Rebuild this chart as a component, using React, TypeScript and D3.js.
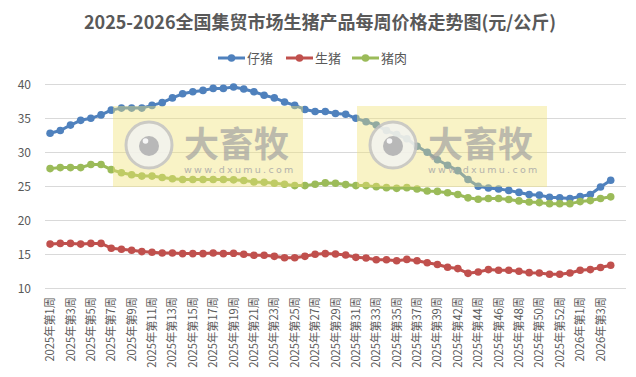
import React from "react";
import * as d3 from "d3";

const categories: string[] = [
  "2025年第1周", "2025年第2周", "2025年第3周", "2025年第4周", "2025年第5周", "2025年第6周",
  "2025年第7周", "2025年第8周", "2025年第9周", "2025年第10周", "2025年第11周", "2025年第12周",
  "2025年第13周", "2025年第14周", "2025年第15周", "2025年第16周", "2025年第17周", "2025年第18周",
  "2025年第19周", "2025年第20周", "2025年第21周", "2025年第22周", "2025年第23周", "2025年第24周",
  "2025年第25周", "2025年第26周", "2025年第27周", "2025年第28周", "2025年第29周", "2025年第30周",
  "2025年第31周", "2025年第32周", "2025年第33周", "2025年第34周", "2025年第35周", "2025年第36周",
  "2025年第37周", "2025年第38周", "2025年第39周", "2025年第41周", "2025年第42周", "2025年第43周",
  "2025年第44周", "2025年第45周", "2025年第46周", "2025年第47周", "2025年第48周", "2025年第49周",
  "2025年第50周", "2025年第51周", "2025年第52周", "2025年第53周", "2026年第1周", "2026年第2周",
  "2026年第3周", "2026年第4周",
];

const piglet: number[] = [
  32.8, 33.2, 34.0, 34.7, 35.0, 35.5, 36.2, 36.5, 36.5, 36.5,
  36.9, 37.3, 38.0, 38.6, 38.9, 39.1, 39.4, 39.4, 39.6, 39.3,
  38.9, 38.4, 38.0, 37.4, 36.9, 36.3, 36.0, 36.0, 35.7, 35.6,
  35.0, 34.5, 34.0, 33.2, 32.6, 32.0, 30.9, 30.0, 28.9, 28.1,
  27.3, 26.0, 25.0, 24.75, 24.6, 24.4, 24.1, 23.8, 23.7, 23.4,
  23.3, 23.2, 23.5, 23.8, 24.9, 25.9,
];

const hog: number[] = [
  16.5, 16.6, 16.6, 16.5, 16.6, 16.6, 15.9, 15.75, 15.6, 15.4,
  15.3, 15.2, 15.2, 15.1, 15.1, 15.1, 15.2, 15.1, 15.15, 15.0,
  14.85, 14.85, 14.7, 14.5, 14.5, 14.7, 15.0, 15.1, 15.05, 14.9,
  14.55, 14.45, 14.2, 14.2, 14.05, 14.25, 14.05, 13.75, 13.5, 13.1,
  12.9, 12.2, 12.4, 12.75, 12.65, 12.65, 12.5, 12.3, 12.25, 12.06,
  12.06, 12.25, 12.65, 12.75, 13.05, 13.4,
];

const pork: number[] = [
  27.6, 27.75, 27.75, 27.75, 28.2, 28.2, 27.45, 27.0, 26.7, 26.5,
  26.5, 26.3, 26.1, 26.0, 26.0, 26.0, 26.0, 26.0, 25.95, 25.85,
  25.65, 25.6, 25.45, 25.3, 25.1, 25.1, 25.3, 25.5, 25.45, 25.25,
  25.1, 25.1, 24.95, 24.8, 24.7, 24.8, 24.6, 24.3, 24.25, 24.05,
  23.8, 23.3, 23.1, 23.2, 23.2, 23.05, 22.85, 22.7, 22.6, 22.45,
  22.45, 22.45, 22.75, 22.9, 23.2, 23.45,
];

const yTicks: number[] = [10, 15, 20, 25, 30, 35, 40];
const seriesNames: string[] = ["仔猪", "生猪", "猪肉"];
const seriesColors: string[] = ["#4F81BD", "#C0504D", "#9BBB59"];
const title = "2025-2026全国集贸市场生猪产品每周价格走势图(元/公斤)";

const FONT = "'Noto Sans CJK SC', 'Microsoft YaHei', sans-serif";

function Watermark({ x0, y0 }: { x0: number; y0: number }) {
  return (
    <g transform={`translate(${x0},${y0})`}>
      <rect x={0} y={0} width={190} height={81} fill="rgb(240,226,118)" opacity={0.42} />
      <circle cx={36} cy={39} r={23} fill="#f3f3f1" opacity={0.85} stroke="#c4c4c4" strokeWidth={3} />
      <circle cx={36} cy={40} r={10} fill="#b8b8b8" />
      <circle cx={32.5} cy={35} r={2.8} fill="#f7f7f7" />
      <text x={71} y={51} fontFamily={FONT} fontWeight="bold" fontSize={35} fill="#a0a0a0" opacity={0.68}>
        大畜牧
      </text>
      <text x={71} y={67} fontFamily="'DejaVu Sans', sans-serif" fontSize={9.5} fill="#a8a8a8" letterSpacing={2.3} opacity={0.85}>
        www.dxumu.com
      </text>
    </g>
  );
}

export default function App() {
  const x = d3.scaleLinear().domain([-0.5, categories.length + 0.5]).range([45, 626]);
  const y = d3.scaleLinear().domain([10, 40]).range([288.3, 84.3]);
  const line = d3
    .line<number>()
    .x((_, i) => x(i))
    .y((d) => y(d));
  const series = [piglet, hog, pork];

  const legendX = [218, 286, 352];

  return (
    <svg
      width={636}
      height={377}
      style={{ position: "absolute", left: 0, top: 0, background: "#fff" }}
      fontFamily={FONT}
    >
      <rect width={636} height={377} fill="#fff" />
      <text x={320} y={29} textAnchor="middle" fontSize={18} fontWeight="bold" fill="#595959">
        {title}
      </text>

      {seriesNames.map((name, k) => (
        <g key={name} transform={`translate(${legendX[k]},58)`}>
          <line x1={0} x2={27} y1={0} y2={0} stroke={seriesColors[k]} strokeWidth={3} />
          <circle cx={13.5} cy={0} r={3.8} fill={seriesColors[k]} />
          <text x={29} y={0} dy="0.36em" fontSize={13} fill="#595959">
            {name}
          </text>
        </g>
      ))}

      {yTicks.map((t) => (
        <g key={t}>
          <line x1={45} x2={626} y1={Math.round(y(t)) + 0.5} y2={Math.round(y(t)) + 0.5} stroke="#d9d9d9" strokeWidth={1} />
          <text x={31} y={y(t)} dy="0.36em" textAnchor="end" fontSize={12} fill="#595959">
            {t}
          </text>
        </g>
      ))}

      {categories.map((c, i) =>
        i % 2 === 0 ? (
          <text
            key={c}
            transform={`translate(${x(i)},297) rotate(-90)`}
            textAnchor="end"
            dy="0.36em"
            fontSize={11.2}
            fill="#595959"
          >
            {c}
          </text>
        ) : null
      )}

      {series.map((s, k) => (
        <g key={seriesNames[k]}>
          <path d={line(s) || ""} fill="none" stroke={seriesColors[k]} strokeWidth={3} strokeLinejoin="round" />
          {s.map((v, i) => (
            <circle key={i} cx={x(i)} cy={y(v)} r={3.8} fill={seriesColors[k]} />
          ))}
        </g>
      ))}

      <Watermark x0={113} y0={106} />
      <Watermark x0={357} y0={106} />
    </svg>
  );
}
